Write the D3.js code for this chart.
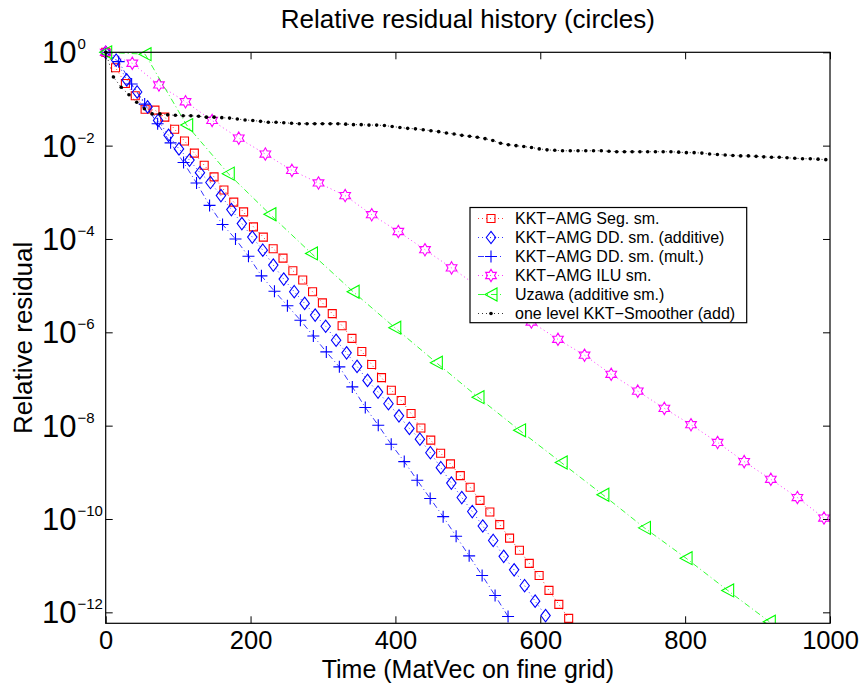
<!DOCTYPE html>
<html><head><meta charset="utf-8">
<script src="https://cdn.jsdelivr.net/npm/d3@7"></script>
<style>
body{margin:0;background:#fff}
svg{display:block}
text{font-family:"Liberation Sans",Arial,Helvetica,sans-serif;fill:#000}
</style>
</head><body>
<svg id="c" width="859" height="683"></svg>
<script>
// ---------- data (x: MatVec on fine grid, y: log10 of relative residual) ----------
const xTicks = [0, 200, 400, 600, 800, 1000];
const yTickExp = [0, -2, -4, -6, -8, -10, -12];

const segX = [0,13.6,27.2,40.8,54.4,68,81.6,95.2,108.8,122.4,136,149.6,163.2,176.8,190.4,204,217.6,231.2,244.8,258.4,272,285.6,299.2,312.8,326.4,340,353.6,367.2,380.8,394.4,408,421.6,435.2,448.8,462.4,476,489.6,503.2,516.8,530.4,544,557.6,571.2,584.8,598.4,612,625.6,639.2];
const segLog = [0,-0.33,-0.67,-0.93,-1.22,-1.24,-1.39,-1.65,-1.90,-2.16,-2.42,-2.67,-2.95,-3.21,-3.42,-3.74,-3.96,-4.21,-4.41,-4.68,-4.88,-5.13,-5.37,-5.60,-5.86,-6.13,-6.41,-6.69,-6.97,-7.24,-7.46,-7.74,-8.05,-8.31,-8.59,-8.82,-9.07,-9.32,-9.60,-9.85,-10.12,-10.41,-10.67,-10.95,-11.21,-11.53,-11.83,-12.13];

const ddAddX = [0,14.5,28.9,43.4,57.8,72.3,86.8,101.2,115.7,130.1,144.6,159.1,173.5,188,202.4,216.9,231.4,245.8,260.3,274.7,289.2,303.7,318.1,332.6,347,361.5,376,390.4,404.9,419.3,433.8,448.3,462.7,477.2,491.6,506.1,520.6,535,549.5,563.9,578.4,592.9,607.3];
const ddAddLog = [0,-0.17,-0.59,-0.85,-1.17,-1.46,-1.78,-2.07,-2.31,-2.58,-2.79,-3.07,-3.37,-3.67,-3.96,-4.24,-4.56,-4.86,-5.13,-5.38,-5.63,-5.87,-6.17,-6.44,-6.73,-7.03,-7.28,-7.53,-7.79,-8.06,-8.29,-8.58,-8.90,-9.23,-9.54,-9.84,-10.15,-10.46,-10.80,-11.09,-11.43,-11.76,-12.07];

const ddMultX = [0,17.9,35.8,53.8,71.7,89.6,107.5,125.4,143.4,161.3,179.2,197.1,215,233,250.9,268.8,286.7,304.6,322.6,340.5,358.4,376.3,394.2,412.2,430.1,448,465.9,483.8,501.8,519.7,537.6,555.5];
const ddMultLog = [0,-0.20,-0.68,-1.11,-1.53,-1.94,-2.36,-2.80,-3.28,-3.69,-4.00,-4.37,-4.79,-5.12,-5.43,-5.74,-6.08,-6.42,-6.74,-7.17,-7.61,-7.99,-8.40,-8.77,-9.17,-9.56,-9.95,-10.37,-10.79,-11.21,-11.64,-12.09];

const iluX = [0,36.7,73.5,110.2,146.9,183.7,220.4,257.1,293.8,330.6,367.3,404,440.8,477.5,514.2,551,587.7,624.4,661.1,697.9,734.6,771.3,808.1,844.8,881.5,918.3,955,991.7];
const iluLog = [0,-0.235,-0.70,-1.06,-1.46,-1.84,-2.18,-2.53,-2.80,-3.07,-3.48,-3.84,-4.23,-4.62,-5.02,-5.41,-5.78,-6.15,-6.49,-6.90,-7.26,-7.63,-7.98,-8.36,-8.77,-9.15,-9.54,-9.98];

const uzawaX = [0,54.3,111.8,169.2,226.7,284.1,341.6,399.1,456.5,514,571.4,628.9,686.4,743.8,801.3,858.7,916.2];
const uzawaLog = [0,-0.04,-1.56,-2.60,-3.47,-4.31,-5.13,-5.90,-6.65,-7.39,-8.10,-8.79,-9.48,-10.19,-10.84,-11.53,-12.20];

const smoothX = [0,10.7,21.4,32.1,42.8,53.4,64.1,74.8,85.5,96.2,106.9,117.6,128.3,139,149.7,160.3,171,181.7,192.4,203.1,213.8,224.5,235.2,245.9,256.6,267.2,277.9,288.6,299.3,310,320.7,331.4,342.1,352.8,363.5,374.1,384.8,395.5,406.2,416.9,427.6,438.3,449,459.7,470.4,481,491.7,502.4,513.1,523.8,534.5,545.2,555.9,566.6,577.3,587.9,598.6,609.3,620,630.7,641.4,652.1,662.8,673.5,684.2,694.8,705.5,716.2,726.9,737.6,748.3,759,769.7,780.4,791.1,801.7,812.4,823.1,833.8,844.5,855.2,865.9,876.6,887.3,898,908.6,919.3,930,940.7,951.4,962.1,972.8,983.5,994.2];
const smoothLog = [0,-0.53,-0.75,-0.91,-1.07,-1.21,-1.32,-1.32,-1.34,-1.35,-1.36,-1.36,-1.37,-1.39,-1.39,-1.40,-1.41,-1.43,-1.45,-1.46,-1.48,-1.50,-1.50,-1.51,-1.52,-1.53,-1.53,-1.53,-1.53,-1.53,-1.53,-1.54,-1.55,-1.55,-1.56,-1.56,-1.57,-1.59,-1.61,-1.63,-1.64,-1.66,-1.68,-1.70,-1.73,-1.75,-1.78,-1.80,-1.82,-1.85,-1.89,-1.95,-1.98,-2.00,-2.02,-2.04,-2.07,-2.09,-2.10,-2.11,-2.11,-2.11,-2.11,-2.11,-2.11,-2.12,-2.13,-2.13,-2.13,-2.13,-2.13,-2.13,-2.13,-2.13,-2.14,-2.15,-2.15,-2.16,-2.18,-2.19,-2.20,-2.21,-2.22,-2.22,-2.23,-2.24,-2.25,-2.25,-2.26,-2.27,-2.28,-2.28,-2.29,-2.30];

const seriesNames = ["KKT\u2212AMG Seg. sm.","KKT\u2212AMG DD. sm. (additive)","KKT\u2212AMG DD. sm. (mult.)","KKT\u2212AMG ILU sm.","Uzawa (additive sm.)","one level KKT\u2212Smoother (add)"];

// ---------- layout ----------
const L = 105.7, R = 830, T = 52.3, B = 623.3;
const yMinExp = -12.235;
const FONT = 26;

const svg = d3.select("#c");
const x = d3.scaleLinear().domain([0, 1000]).range([L, R]);
const y = d3.scaleLog().domain([Math.pow(10, yMinExp), 1]).range([B, T]);

function hexagram(r) {
  const ri = r / Math.sqrt(3);
  let p = "";
  for (let i = 0; i < 12; i++) {
    const a = -Math.PI / 2 + i * Math.PI / 6;
    const rr = i % 2 === 0 ? r : ri;
    p += (i ? "L" : "M") + (rr * Math.cos(a)).toFixed(2) + "," + (rr * Math.sin(a)).toFixed(2);
  }
  return p + "Z";
}
const markers = {
  square: {d: "M-4,-4H4V4H-4Z", fill: "none"},
  diamond: {d: "M0,-6.2L4.7,0L0,6.2L-4.7,0Z", fill: "none"},
  plus: {d: "M-6,0H6M0,-6V6", fill: "none"},
  hexagram: {d: hexagram(6.2), fill: "none"},
  triLeft: {d: "M-6,0L6,-6.5L6,6.5Z", fill: "none"},
  dot: {d: "M-1.8,0A1.8,1.8 0 1,0 1.8,0A1.8,1.8 0 1,0 -1.8,0Z", fill: "#000"}
};

const series = [
  {name: seriesNames[0], xs: segX, logs: segLog, color: "#ff0000", dash: "1,3", marker: "square"},
  {name: seriesNames[1], xs: ddAddX, logs: ddAddLog, color: "#0000ff", dash: "1,3", marker: "diamond"},
  {name: seriesNames[2], xs: ddMultX, logs: ddMultLog, color: "#0000ff", dash: "6,3,1,3", marker: "plus"},
  {name: seriesNames[3], xs: iluX, logs: iluLog, color: "#ff00ff", dash: "1,3", marker: "hexagram"},
  {name: seriesNames[4], xs: uzawaX, logs: uzawaLog, color: "#00ff00", dash: "6,3,1,3", marker: "triLeft"},
  {name: seriesNames[5], xs: smoothX, logs: smoothLog, color: "#000000", dash: "1,3", marker: "dot"}
];

// ---------- axes ----------
svg.append("defs").append("clipPath").attr("id", "plotclip")
  .append("rect").attr("x", L - 8).attr("y", T - 8).attr("width", R - L + 16).attr("height", B - T + 8);

const yTickVals = yTickExp.map(e => Math.pow(10, e));

const gx = svg.append("g").attr("transform", `translate(0,${B})`)
  .call(d3.axisBottom(x).tickValues(xTicks).tickSizeInner(-7).tickSizeOuter(0).tickPadding(8).tickFormat(d3.format("d")));
gx.selectAll("text").attr("font-size", 25.5).attr("font-family", "Liberation Sans, Arial, sans-serif").attr("fill", "#000");
const gxt = svg.append("g").attr("transform", `translate(0,${T})`)
  .call(d3.axisTop(x).tickValues(xTicks).tickSizeInner(-7).tickSizeOuter(0).tickFormat(""));
const gy = svg.append("g").attr("transform", `translate(${L},0)`)
  .call(d3.axisLeft(y).tickValues(yTickVals).tickSizeInner(-7).tickSizeOuter(0).tickFormat(""));
const gyr = svg.append("g").attr("transform", `translate(${R},0)`)
  .call(d3.axisRight(y).tickValues(yTickVals).tickSizeInner(-7).tickSizeOuter(0).tickFormat(""));
[gx, gxt, gy, gyr].forEach(g => {
  g.select(".domain").remove();
  g.selectAll(".tick line").attr("stroke", "#000").attr("stroke-width", 1);
});

// y tick labels: "10" with superscript exponent
const ylab = svg.append("g");
yTickExp.forEach(e => {
  const t = ylab.append("text").attr("x", 42).attr("y", y(Math.pow(10, e)) + 11).attr("font-size", 31);
  t.append("tspan").text("10");
  t.append("tspan").attr("font-size", 15).attr("dx", 1).attr("dy", -14).text(String(e).replace("-", "\u2212"));
});

// ---------- series ----------
const plot = svg.append("g").attr("clip-path", "url(#plotclip)");
const line = d3.line().x(d => x(d[0])).y(d => y(d[1]));
series.forEach(s => {
  const pts = s.xs.map((v, i) => [v, Math.pow(10, s.logs[i])]);
  plot.append("path").attr("d", line(pts)).attr("fill", "none")
    .attr("stroke", s.color).attr("stroke-width", 0.8).attr("stroke-dasharray", s.dash);
  const m = markers[s.marker];
  plot.append("g").selectAll("path").data(pts).join("path")
    .attr("transform", d => `translate(${x(d[0])},${y(d[1])})`)
    .attr("d", m.d)
    .attr("fill", m.fill === "none" ? "none" : s.color)
    .attr("stroke", s.color).attr("stroke-width", s.marker === "dot" ? 0 : 1.1);
});

// box
svg.append("rect").attr("x", L).attr("y", T).attr("width", R - L).attr("height", B - T)
  .attr("fill", "none").attr("stroke", "#000").attr("stroke-width", 1.2);

// ---------- titles ----------
svg.append("text").attr("x", (L + R) / 2).attr("y", 28).attr("text-anchor", "middle")
  .attr("font-size", FONT).text("Relative residual history (circles)");
svg.append("text").attr("x", (L + R) / 2).attr("y", 677.5).attr("text-anchor", "middle")
  .attr("font-size", 25).text("Time (MatVec on fine grid)");
svg.append("text").attr("transform", `translate(32,${(T + B) / 2}) rotate(-90)`).attr("text-anchor", "middle")
  .attr("font-size", FONT).text("Relative residual");

// ---------- legend ----------
const lg = svg.append("g");
const LX = 470, LY = 207.5, LW = 276.7, LH = 115.2, rowH = 19, row0 = 218.5;
lg.append("rect").attr("x", LX).attr("y", LY).attr("width", LW).attr("height", LH)
  .attr("fill", "#fff").attr("stroke", "#000").attr("stroke-width", 1.2);
series.forEach((s, i) => {
  const cy = row0 + i * rowH;
  lg.append("line").attr("x1", LX + 8).attr("x2", LX + 33).attr("y1", cy).attr("y2", cy)
    .attr("stroke", s.color).attr("stroke-width", 0.8).attr("stroke-dasharray", s.dash);
  const m = markers[s.marker];
  lg.append("path").attr("transform", `translate(${LX + 21},${cy})`).attr("d", m.d)
    .attr("fill", m.fill === "none" ? "none" : s.color)
    .attr("stroke", s.color).attr("stroke-width", s.marker === "dot" ? 0 : 1.1);
  lg.append("text").attr("x", LX + 45).attr("y", cy + 5.5).attr("font-size", 16).text(s.name);
});
</script>
</body></html>
